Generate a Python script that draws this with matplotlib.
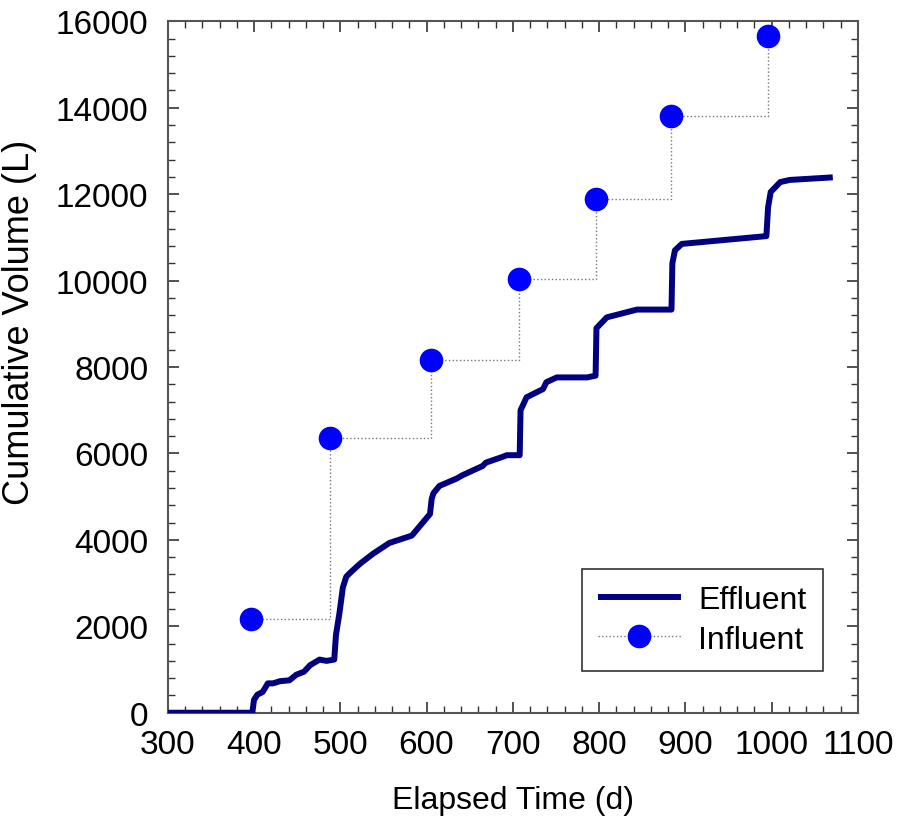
import numpy as np
import matplotlib.pyplot as plt
from matplotlib.ticker import MultipleLocator

plt.rcParams['font.family'] = ['Liberation Sans', 'DejaVu Sans']

# effluent cumulative volume
eff_t = [300, 398, 400, 404, 410, 416, 422, 430, 441, 449, 458, 465, 476, 484, 493,
         495, 499, 503, 507, 512, 523, 538, 557, 577, 583, 604, 606, 608, 615, 635,
         642, 665, 669, 688, 693, 708, 709, 716, 735, 739, 751, 786, 796, 797, 809,
         844, 884, 885, 888, 896, 994, 996, 999, 1010, 1021, 1071]
eff_v = [0, 0, 300, 420, 480, 680, 680, 730, 750, 880, 950, 1100, 1230, 1200, 1230,
         1800, 2300, 2900, 3150, 3250, 3450, 3680, 3930, 4060, 4100, 4600, 4950, 5080, 5250, 5420,
         5500, 5710, 5790, 5920, 5960, 5960, 7000, 7300, 7490, 7650, 7760, 7760, 7800, 8900, 9150,
         9330, 9330, 10400, 10700, 10850, 11030, 11700, 12050, 12280, 12330, 12390]

# influent cumulative volume
inf_t = [397, 488, 605, 707, 796, 884, 996]
inf_v = [2170, 6350, 8160, 10030, 11900, 13820, 15650]

fig = plt.figure(figsize=(9.02, 8.28), dpi=100)
ax = fig.add_axes([0.186, 0.138, 0.765, 0.835])

ax.plot(eff_t, eff_v, color='#000080', linewidth=4.3, label='Effluent', zorder=3,
        solid_joinstyle='round', solid_capstyle='butt')
ax.plot(inf_t, inf_v, drawstyle='steps-post', linestyle=':', color='#777777', linewidth=1.0,
        marker='o', markersize=16, markerfacecolor='#0000ff', markeredgecolor='#0000ff',
        label='Influent', zorder=4)

ax.set_xlim(300, 1100)
ax.set_ylim(0, 16000)
ax.xaxis.set_major_locator(MultipleLocator(100))
ax.xaxis.set_minor_locator(MultipleLocator(20))
ax.yaxis.set_major_locator(MultipleLocator(2000))
ax.yaxis.set_minor_locator(MultipleLocator(400))

for s in ax.spines.values():
    s.set_color('#555555')
    s.set_linewidth(1.5)
ax.tick_params(which='both', direction='in', top=True, right=True, color='#333333')
ax.tick_params(which='major', length=8, width=1.2, labelsize=24)
ax.tick_params(axis='x', which='major', pad=12)
ax.tick_params(axis='y', which='major', pad=14)
ax.tick_params(which='minor', length=5, width=1.0)

ax.set_xlabel('Elapsed Time (d)', fontsize=23, labelpad=18)
ax.set_ylabel('Cumulative Volume (L)', fontsize=26)
ax.yaxis.set_label_coords(-0.19, 0.566)

leg = ax.legend(loc='lower right', bbox_to_anchor=(0.949, 0.061), fontsize=23,
                frameon=True, fancybox=False, borderaxespad=0, handlelength=2.6,
                handletextpad=0.55, borderpad=0.5, labelspacing=0.3)
leg.get_frame().set_edgecolor('black')
leg.get_frame().set_linewidth(1.2)

fig.savefig('out.png', dpi=100)
